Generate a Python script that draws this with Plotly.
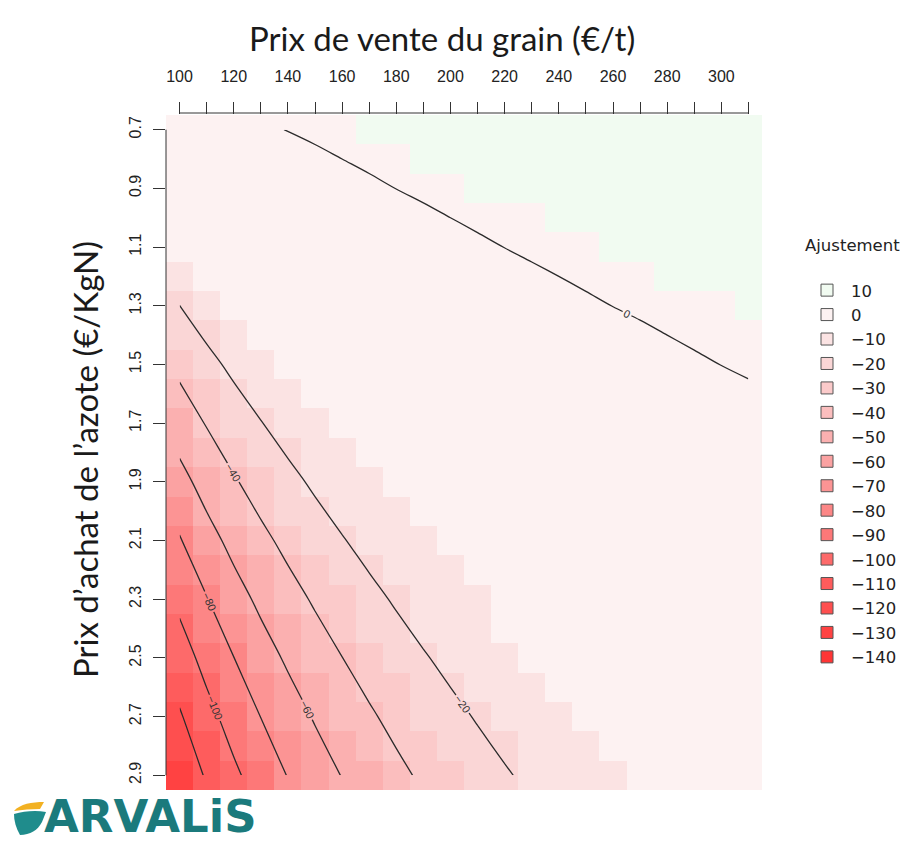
import plotly.graph_objects as go

# ---------------- data ----------------
prix_grain = [100, 110, 120, 130, 140, 150, 160, 170, 180, 190, 200,
              210, 220, 230, 240, 250, 260, 270, 280, 290, 300, 310]
prix_azote = [0.7, 0.8, 0.9, 1.0, 1.1, 1.2, 1.3, 1.4, 1.5, 1.6, 1.7, 1.8,
              1.9, 2.0, 2.1, 2.2, 2.3, 2.4, 2.5, 2.6, 2.7, 2.8, 2.9]

classes_legende = [10, 0, -10, -20, -30, -40, -50, -60, -70, -80, -90,
                   -100, -110, -120, -130, -140]
couleurs_classes = ["#F1FBF1", "#FDF2F2", "#FBE3E3", "#FAD6D6", "#FBCACA",
                    "#FBBEBE", "#FBB0B0", "#FBA2A2", "#FC9494", "#FC8686",
                    "#FD7878", "#FD6A6A", "#FE5C5C", "#FE4F4F", "#FF4242",
                    "#FF3535"]

# class of each cell (one list per grain price, nitrogen price 0.7 -> 2.9)
classes_par_prix = [
    [0, 0, 0, 0, 0, -10, -20, -20, -30, -40, -50, -50, -60, -70, -80, -80, -90, -100, -100, -110, -120, -120, -130],
    [0, 0, 0, 0, 0, 0, -10, -20, -20, -30, -30, -40, -50, -50, -60, -70, -80, -80, -90, -100, -100, -110, -110],
    [0, 0, 0, 0, 0, 0, 0, -10, -10, -20, -20, -30, -40, -40, -50, -60, -60, -70, -80, -80, -90, -90, -100],
    [0, 0, 0, 0, 0, 0, 0, 0, -10, -10, -20, -20, -30, -30, -40, -50, -50, -60, -60, -70, -70, -80, -90],
    [0, 0, 0, 0, 0, 0, 0, 0, 0, -10, -10, -20, -20, -20, -30, -40, -40, -50, -50, -60, -60, -70, -70],
    [0, 0, 0, 0, 0, 0, 0, 0, 0, 0, -10, -10, -10, -20, -20, -30, -30, -40, -40, -50, -50, -60, -60],
    [0, 0, 0, 0, 0, 0, 0, 0, 0, 0, 0, -10, -10, -10, -20, -20, -30, -30, -40, -40, -40, -50, -50],
    [10, 0, 0, 0, 0, 0, 0, 0, 0, 0, 0, 0, -10, -10, -10, -20, -20, -20, -30, -30, -40, -40, -50],
    [10, 0, 0, 0, 0, 0, 0, 0, 0, 0, 0, 0, 0, -10, -10, -10, -20, -20, -20, -30, -30, -30, -40],
    [10, 10, 0, 0, 0, 0, 0, 0, 0, 0, 0, 0, 0, 0, -10, -10, -10, -10, -20, -20, -20, -30, -30],
    [10, 10, 0, 0, 0, 0, 0, 0, 0, 0, 0, 0, 0, 0, 0, -10, -10, -10, -10, -20, -20, -20, -30],
    [10, 10, 10, 0, 0, 0, 0, 0, 0, 0, 0, 0, 0, 0, 0, 0, -10, -10, -10, -10, -20, -20, -20],
    [10, 10, 10, 0, 0, 0, 0, 0, 0, 0, 0, 0, 0, 0, 0, 0, 0, 0, -10, -10, -10, -20, -20],
    [10, 10, 10, 0, 0, 0, 0, 0, 0, 0, 0, 0, 0, 0, 0, 0, 0, 0, 0, -10, -10, -10, -10],
    [10, 10, 10, 10, 0, 0, 0, 0, 0, 0, 0, 0, 0, 0, 0, 0, 0, 0, 0, 0, -10, -10, -10],
    [10, 10, 10, 10, 0, 0, 0, 0, 0, 0, 0, 0, 0, 0, 0, 0, 0, 0, 0, 0, 0, -10, -10],
    [10, 10, 10, 10, 10, 0, 0, 0, 0, 0, 0, 0, 0, 0, 0, 0, 0, 0, 0, 0, 0, 0, -10],
    [10, 10, 10, 10, 10, 0, 0, 0, 0, 0, 0, 0, 0, 0, 0, 0, 0, 0, 0, 0, 0, 0, 0],
    [10, 10, 10, 10, 10, 10, 0, 0, 0, 0, 0, 0, 0, 0, 0, 0, 0, 0, 0, 0, 0, 0, 0],
    [10, 10, 10, 10, 10, 10, 0, 0, 0, 0, 0, 0, 0, 0, 0, 0, 0, 0, 0, 0, 0, 0, 0],
    [10, 10, 10, 10, 10, 10, 0, 0, 0, 0, 0, 0, 0, 0, 0, 0, 0, 0, 0, 0, 0, 0, 0],
    [10, 10, 10, 10, 10, 10, 10, 0, 0, 0, 0, 0, 0, 0, 0, 0, 0, 0, 0, 0, 0, 0, 0],
]

# continuous adjustment used for the iso-lines
# (one list per grain price 100 -> 310, nitrogen price 0.7 -> 2.9 by 0.2)
contour_azote = [0.7, 0.9, 1.1, 1.3, 1.5, 1.7, 1.9, 2.1, 2.3, 2.5, 2.7, 2.9]
contour_par_prix = [
    [-1.54, -3.08, -4.62, -20.1, -35.38, -50.77, -66.15, -81.43, -95.71, -109.03, -121.94, -134.84],
    [-1.05, -2.45, -3.85, -10.91, -24.89, -38.88, -52.87, -66.85, -80.78, -93.76, -106.10, -117.83],
    [-0.64, -1.93, -3.21, -4.49, -16.15, -28.98, -41.79, -54.61, -67.44, -80.24, -92.14, -103.66],
    [-0.30, -1.48, -2.67, -3.85, -8.75, -20.59, -32.42, -44.26, -56.09, -67.93, -79.76, -90.77],
    [0.05, -1.10, -2.20, -3.30, -4.40, -13.41, -24.39, -35.38, -46.38, -57.36, -68.35, -79.34],
    [0.26, -0.77, -1.80, -2.82, -3.85, -7.18, -17.44, -27.69, -37.95, -48.21, -58.46, -68.72],
    [0.48, -0.48, -1.44, -2.41, -3.37, -4.33, -11.35, -20.96, -30.58, -40.19, -49.81, -59.42],
    [0.68, -0.23, -1.13, -2.04, -2.94, -3.85, -5.97, -15.02, -24.07, -33.12, -42.17, -51.22],
    [0.86, 0.01, -0.86, -1.71, -2.57, -3.42, -4.28, -9.74, -18.29, -26.84, -35.38, -43.93],
    [1.01, 0.20, -0.61, -1.42, -2.23, -3.04, -3.85, -5.02, -13.12, -21.22, -29.32, -37.41],
    [1.16, 0.39, -0.39, -1.16, -1.93, -2.70, -3.47, -4.24, -8.46, -16.15, -23.85, -31.54],
    [1.28, 0.55, -0.18, -0.92, -1.65, -2.38, -3.12, -3.85, -4.58, -11.58, -18.90, -26.23],
    [1.40, 0.70, 0.01, -0.70, -1.40, -2.10, -2.80, -3.50, -4.20, -7.42, -14.41, -21.40],
    [1.51, 0.84, 0.17, -0.50, -1.17, -1.84, -2.51, -3.18, -3.85, -4.52, -10.30, -16.99],
    [1.60, 0.96, 0.32, -0.32, -0.96, -1.60, -2.25, -2.89, -3.53, -4.17, -6.54, -12.95],
    [1.69, 1.08, 0.46, -0.15, -0.77, -1.39, -2.00, -2.62, -3.23, -3.85, -4.47, -9.23],
    [1.78, 1.18, 0.59, 0.01, -0.59, -1.18, -1.78, -2.37, -2.96, -3.55, -4.15, -5.80],
    [1.85, 1.28, 0.71, 0.14, -0.43, -1.00, -1.57, -2.14, -2.71, -3.28, -3.85, -4.42],
    [1.93, 1.38, 0.82, 0.27, -0.27, -0.82, -1.38, -1.93, -2.47, -3.03, -3.58, -4.12],
    [1.99, 1.46, 0.93, 0.40, -0.13, -0.66, -1.20, -1.73, -2.26, -2.79, -3.32, -3.85],
    [2.05, 1.54, 1.03, 0.51, 0.01, -0.51, -1.03, -1.54, -2.05, -2.57, -3.08, -3.59],
    [2.11, 1.61, 1.12, 0.62, 0.12, -0.37, -0.87, -1.37, -1.86, -2.36, -2.86, -3.35],
]
niveau_min, niveau_max, pas_niveau = -120, 0, 20

# ---------------- geometry helpers (layout only) ----------------
W, H = 907, 845
ML, MR, MT, MB = 166, 145, 115, 55
PW, PH = W - ML - MR, H - MT - MB


def px(x, y):
    return (x - ML) / PW, 1 - (y - MT) / PH


# ---------------- figure ----------------
z_classes = [list(r) for r in zip(*classes_par_prix)]
z_contour = [list(r) for r in zip(*contour_par_prix)]

zmin = min(classes_legende) - 5
zmax = max(classes_legende) + 5
span = zmax - zmin
colorscale = []
for c, col in sorted(zip(classes_legende, couleurs_classes)):
    colorscale.append([(c - 5 - zmin) / span, col])
    colorscale.append([(c + 5 - zmin) / span, col])

fig = go.Figure()
fig.add_trace(go.Heatmap(
    x=prix_grain, y=prix_azote, z=z_classes,
    colorscale=colorscale, zmin=zmin, zmax=zmax,
    showscale=False, hoverinfo="skip", showlegend=False))

fig.add_trace(go.Contour(
    x=prix_grain, y=contour_azote, z=z_contour,
    contours=dict(coloring="lines", start=niveau_min, end=niveau_max,
                  size=pas_niveau, showlabels=True,
                  labelfont=dict(family="Liberation Sans", size=11, color="#333")),
    line=dict(width=1.3),
    colorscale=[[0, "#2b2b2b"], [1, "#2b2b2b"]],
    showscale=False, hoverinfo="skip", showlegend=False))

for c, col in zip(classes_legende, couleurs_classes):
    fig.add_trace(go.Scatter(
        x=[None], y=[None], mode="markers",
        marker=dict(symbol="square", size=12, color=col,
                    line=dict(color="#555", width=1)),
        name=str(c).replace("-", "\u2212"), showlegend=True))

tickfont = dict(family="Liberation Sans, Arial", size=16, color="#222")

fig.update_layout(
    width=W, height=H,
    margin=dict(l=ML, r=MR, t=MT, b=MB, autoexpand=False),
    paper_bgcolor="white", plot_bgcolor="white",
    xaxis=dict(side="top", range=[95, 315], tickmode="linear", tick0=100, dtick=20,
               ticks="outside", ticklen=12, tickwidth=1, tickcolor="#333",
               minor=dict(tick0=100, dtick=10, ticks="outside", ticklen=12,
                          tickwidth=1, tickcolor="#333"),
               ticklabelstandoff=14, tickfont=tickfont, automargin=False,
               showgrid=False, zeroline=False, showline=False, fixedrange=True),
    yaxis=dict(range=[2.95, 0.65], tickmode="linear", tick0=0.7, dtick=0.2,
               tickformat=".1f", tickangle=-90,
               ticks="outside", ticklen=12, tickwidth=1, tickcolor="#333",
               ticklabelstandoff=6, tickfont=tickfont, automargin=False,
               showgrid=False, zeroline=False, showline=False, fixedrange=True),
    legend=dict(x=px(803, 0)[0], xanchor="left", y=px(0, 230)[1], yanchor="top",
                title=dict(text="Ajustement<br>\u00a0",
                           font=dict(family="DejaVu Sans", size=16.5, color="#222")),
                font=dict(family="DejaVu Sans", size=16.5, color="#222"),
                itemwidth=38,
                bgcolor="rgba(0,0,0,0)", tracegroupgap=0),
    showlegend=True,
)

# axis rulers (from first to last tick, as in the original)
fig.add_shape(type="line", xref="x", yref="paper",
              x0=min(prix_grain), x1=max(prix_grain), y0=px(0, 113)[1], y1=px(0, 113)[1],
              line=dict(color="#333", width=1))
fig.add_shape(type="line", xref="paper", yref="y",
              x0=0, x1=0, y0=min(prix_azote), y1=max(prix_azote),
              line=dict(color="#333", width=1))

# titles
tx, ty = px(442, 38)
fig.add_annotation(text="Prix de vente du grain (€/t)", xref="paper", yref="paper",
                   x=tx, y=ty, xanchor="center", yanchor="middle", showarrow=False,
                   font=dict(family="Lato, Open Sans", size=33, color="#1a1a1a"))
tx, ty = px(85, 460)
fig.add_annotation(text="Prix d’achat de l’azote (€/KgN)", xref="paper", yref="paper",
                   x=tx, y=ty, xanchor="center", yanchor="middle", showarrow=False,
                   textangle=-90,
                   font=dict(family="Lato, Open Sans", size=33, color="#1a1a1a"))

# ARVALIS logo
lx, ly = px(43, 844)
fig.add_annotation(text="<b>ARVALiS</b>", xref="paper", yref="paper",
                   x=lx, y=ly, xanchor="left", yanchor="bottom", showarrow=False,
                   borderpad=0,
                   font=dict(family="DejaVu Sans", size=45, color="#1B7A7C"))


def path(points):
    s = ""
    for cmd, pts in points:
        s += cmd + " " + " ".join("%.5f,%.5f" % px(a, b) for a, b in pts) + " "
    return s + "Z"


yellow = path([("M", [(14, 811)]), ("C", [(20, 804), (32, 802), (44, 802)]),
               ("L", [(40, 809)]), ("C", [(32, 809), (22, 810), (14, 811)])])
teal = path([("M", [(14, 814)]), ("C", [(24, 811), (36, 810), (46, 812)]),
             ("L", [(42, 822)]), ("C", [(38, 830), (30, 835), (20, 835)]),
             ("C", [(16, 828), (14, 821), (14, 814)])])
fig.add_shape(type="path", xref="paper", yref="paper", path=yellow,
              fillcolor="#F2B122", line=dict(width=0))
fig.add_shape(type="path", xref="paper", yref="paper", path=teal,
              fillcolor="#1F8C8C", line=dict(width=0))

fig.write_html("out.html", config={"displayModeBar": False},
               post_script="document.body.style.margin='0px';")
